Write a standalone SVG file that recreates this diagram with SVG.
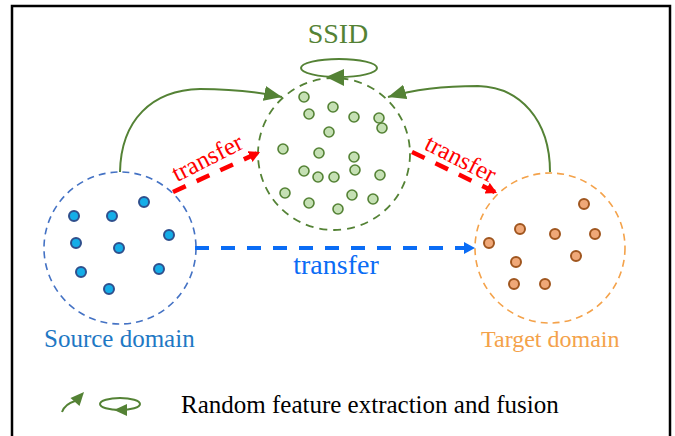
<svg xmlns="http://www.w3.org/2000/svg" width="675" height="436" viewBox="0 0 675 436">
  <style>
    .lbl { font-family: 'Liberation Serif', 'Times New Roman', serif; }
    .frame { fill: none; stroke: #000; stroke-width: 2.5; }
    .src-ring { fill: none; stroke: #4472C4; stroke-width: 1.6; stroke-dasharray: 7 5; }
    .mid-ring { fill: none; stroke: #548235; stroke-width: 1.8; stroke-dasharray: 8 6; }
    .tgt-ring { fill: none; stroke: #F4A24A; stroke-width: 1.6; stroke-dasharray: 7 5; }
    .src-dot { fill: #14ADE8; stroke: #2F4F8C; stroke-width: 2; }
    .mid-dot { fill: #C5E0B4; stroke: #548235; stroke-width: 1.6; }
    .tgt-dot { fill: #F0A878; stroke: #A0561F; stroke-width: 2; }
    .fuse { fill: none; stroke: #548235; stroke-width: 2; }
    .fuse-head { fill: #548235; }
    .red-link { fill: none; stroke: #FF0000; stroke-width: 4.5; stroke-dasharray: 14 12; }
    .blue-link { fill: none; stroke: #0A6CF5; stroke-width: 4; stroke-dasharray: 14 12; }
  </style>
  <defs>
    <marker id="green-head" markerUnits="userSpaceOnUse" markerWidth="19" markerHeight="15" refX="18" refY="7.5" orient="auto">
      <path d="M0,0 L18,7.5 L0,15 z" fill="#548235"/>
    </marker>
    <marker id="red-head" markerUnits="userSpaceOnUse" markerWidth="12" markerHeight="12" refX="11" refY="6" orient="auto">
      <path d="M0,0 L11,6 L0,12 z" fill="#FF0000"/>
    </marker>
    <marker id="blue-head" markerUnits="userSpaceOnUse" markerWidth="12" markerHeight="12" refX="11" refY="6" orient="auto">
      <path d="M0,0 L11,6 L0,12 z" fill="#0A6CF5"/>
    </marker>
  </defs>

  <rect width="675" height="436" fill="#fff"/>
  <rect class="frame" x="12" y="6" width="658" height="450"/>

  <!-- source domain -->
  <g id="source">
    <circle class="src-ring" cx="120" cy="248" r="76"/>
    <circle class="src-dot" cx="144" cy="202" r="5"/>
    <circle class="src-dot" cx="74" cy="216" r="5"/>
    <circle class="src-dot" cx="112" cy="216" r="5"/>
    <circle class="src-dot" cx="169" cy="235" r="5"/>
    <circle class="src-dot" cx="76" cy="243" r="5"/>
    <circle class="src-dot" cx="119" cy="248" r="5"/>
    <circle class="src-dot" cx="81" cy="272" r="5"/>
    <circle class="src-dot" cx="159" cy="269" r="5"/>
    <circle class="src-dot" cx="109" cy="289" r="5"/>
    <text class="lbl" x="44" y="347" font-size="25" fill="#1E78C4">Source domain</text>
  </g>

  <!-- SSID intermediate domain -->
  <g id="ssid">
    <circle class="mid-ring" cx="334" cy="154" r="76"/>
    <circle class="mid-dot" cx="304" cy="97" r="5"/>
    <circle class="mid-dot" cx="333" cy="107" r="5"/>
    <circle class="mid-dot" cx="309" cy="114" r="5"/>
    <circle class="mid-dot" cx="354" cy="117" r="5"/>
    <circle class="mid-dot" cx="379" cy="118" r="5"/>
    <circle class="mid-dot" cx="382" cy="128" r="5"/>
    <circle class="mid-dot" cx="329" cy="132" r="5"/>
    <circle class="mid-dot" cx="283" cy="149" r="5"/>
    <circle class="mid-dot" cx="319" cy="153" r="5"/>
    <circle class="mid-dot" cx="354" cy="157" r="5"/>
    <circle class="mid-dot" cx="304" cy="171" r="5"/>
    <circle class="mid-dot" cx="318" cy="177" r="5"/>
    <circle class="mid-dot" cx="334" cy="177" r="5"/>
    <circle class="mid-dot" cx="355" cy="170" r="5"/>
    <circle class="mid-dot" cx="380" cy="175" r="5"/>
    <circle class="mid-dot" cx="285" cy="193" r="5"/>
    <circle class="mid-dot" cx="309" cy="203" r="5"/>
    <circle class="mid-dot" cx="352" cy="195" r="5"/>
    <circle class="mid-dot" cx="373" cy="199" r="5"/>
    <circle class="mid-dot" cx="338" cy="209" r="5"/>
    <text class="lbl" x="338" y="43" font-size="28" fill="#548235" text-anchor="middle">SSID</text>
    <ellipse class="fuse" cx="339" cy="68" rx="38" ry="9"/>
    <polygon class="fuse-head" points="326,77 344,69 344,86"/>
  </g>

  <!-- target domain -->
  <g id="target">
    <circle class="tgt-ring" cx="550" cy="248" r="75"/>
    <circle class="tgt-dot" cx="584" cy="204" r="5"/>
    <circle class="tgt-dot" cx="520" cy="229" r="5"/>
    <circle class="tgt-dot" cx="555" cy="234" r="5"/>
    <circle class="tgt-dot" cx="595" cy="234" r="5"/>
    <circle class="tgt-dot" cx="489" cy="243" r="5"/>
    <circle class="tgt-dot" cx="576" cy="256" r="5"/>
    <circle class="tgt-dot" cx="516" cy="262" r="5"/>
    <circle class="tgt-dot" cx="514" cy="284" r="5"/>
    <circle class="tgt-dot" cx="545" cy="284" r="5"/>
    <text class="lbl" x="481" y="347" font-size="24" fill="#F4A24A">Target domain</text>
  </g>

  <!-- connectors -->
  <g id="connectors">
    <path class="fuse" d="M120,172 C121,120 152,90 200,89 C232,89 258,92 282,97" marker-end="url(#green-head)"/>
    <path class="fuse" d="M550,172 C550,120 520,87 478,86 C442,86 412,90 388,97" marker-end="url(#green-head)"/>
    <path class="red-link" d="M173,192 L260,152" marker-end="url(#red-head)"/>
    <path class="red-link" d="M412,152 L497,193" marker-end="url(#red-head)"/>
    <path class="blue-link" d="M195,248 L475,248" marker-end="url(#blue-head)"/>
    <text class="lbl" font-size="25" fill="#FF0000" text-anchor="middle" transform="translate(211,165) rotate(-27)">transfer</text>
    <text class="lbl" font-size="25" fill="#FF0000" text-anchor="middle" transform="translate(457,166) rotate(27)">transfer</text>
    <text class="lbl" x="336" y="274" font-size="28" fill="#0A6CF5" text-anchor="middle">transfer</text>
  </g>

  <!-- legend -->
  <g id="legend">
    <path class="fuse" d="M62,412 Q65,404 75,401"/>
    <polygon class="fuse-head" points="84,392 79.5,406 70.5,398"/>
    <ellipse class="fuse" cx="120" cy="404" rx="20" ry="6"/>
    <polygon class="fuse-head" points="114,410 127,404 127,416"/>
    <text class="lbl" x="181" y="413" font-size="25" fill="#000">Random feature extraction and fusion</text>
  </g>
</svg>
